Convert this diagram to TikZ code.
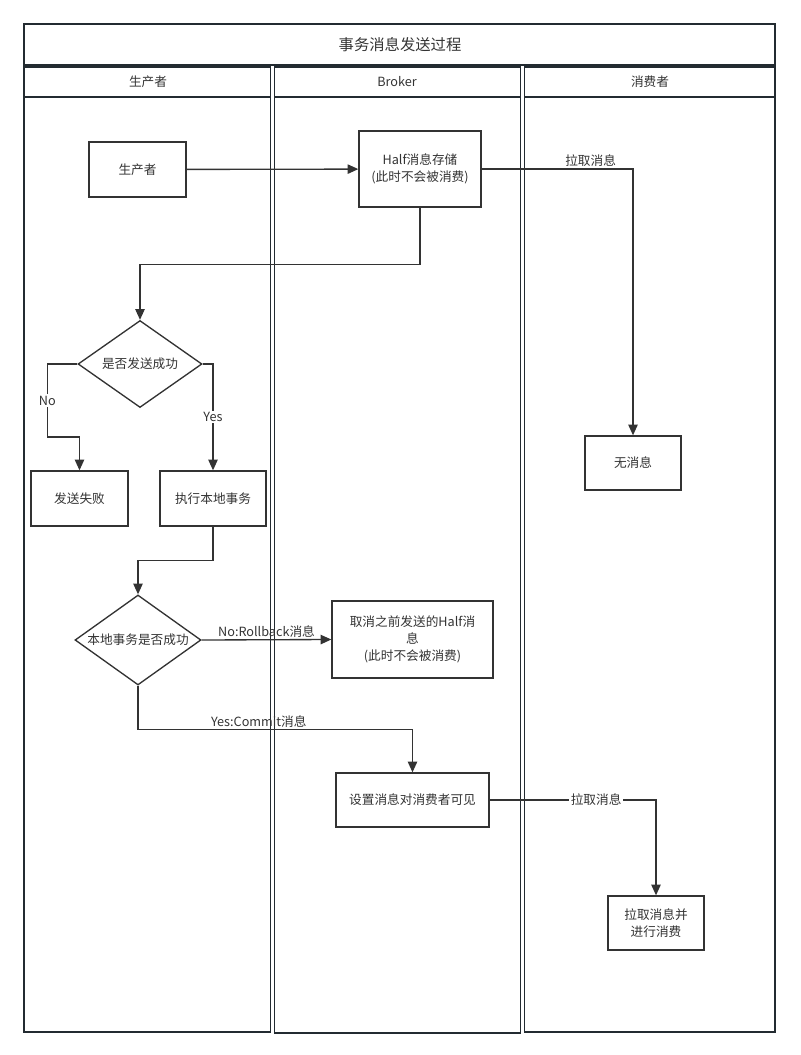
\documentclass[tikz,border=0pt]{standalone}
\usepackage{fontspec}
\setmainfont{Noto Sans CJK SC}
\usetikzlibrary{shapes.geometric}
\usetikzlibrary{arrows.meta}
\definecolor{lane}{HTML}{232B31}
\definecolor{ink}{HTML}{333333}
\newcommand{\txt}{\fontsize{9.5}{13}\selectfont}
\begin{document}
\begin{tikzpicture}[x=0.75pt,y=-0.75pt,
    lanebox/.style={draw=lane,line width=1.3pt},
    proc/.style={draw=ink,line width=1pt,fill=white,align=center,font=\txt,text=ink,inner sep=2pt},
    decide/.style={diamond,draw=ink,line width=1pt,fill=white,aspect=1.4,inner sep=0pt,font=\txt,text=ink},
    flow/.style={draw=ink,line width=1pt,-{Triangle[length=8pt,width=7pt]}},
    lbl/.style={font=\txt,text=ink,inner sep=1pt},
    cut/.style={lbl,fill=white}]
    \useasboundingbox (0,0) rectangle (800,1055);

    % pool and lanes
    \draw[lanebox] (24,24) rectangle (775,65);
    \node[font=\fontsize{11.5}{14}\selectfont,text=ink] (title) at (400,45) {事务消息发送过程};

    \draw[lanebox] (24,67) rectangle (270.5,1032);
    \draw[lanebox] (24,97) -- (270.5,97);
    \node[lbl] (laneP) at (148,82) {生产者};

    \draw[lanebox] (274.5,67) rectangle (520.5,1033);
    \draw[lanebox] (274.5,97) -- (520.5,97);
    \node[lbl] (laneB) at (397,82) {Broker};

    \draw[lanebox] (524.5,67) rectangle (775,1032);
    \draw[lanebox] (524.5,97) -- (775,97);
    \node[lbl] (laneC) at (650,82) {消费者};

    % steps
    \node[proc,minimum width=72.75pt,minimum height=41.25pt] (prod) at (137.5,169.5) {生产者};
    \node[proc,minimum width=91.5pt,minimum height=57pt] (half) at (420,169) {Half消息存储\\(此时不会被消费)};
    \node[proc,minimum width=72pt,minimum height=40.5pt] (none) at (633,463) {无消息};
    \node[decide,minimum width=93pt,minimum height=65.25pt] (sent) at (140,364) {是否发送成功};
    \node[proc,minimum width=72.75pt,minimum height=41.25pt] (fail) at (79.5,498.5) {发送失败};
    \node[proc,minimum width=79.5pt,minimum height=41.25pt] (exec) at (213,498.5) {执行本地事务};
    \node[decide,minimum width=94.5pt,minimum height=67.5pt] (local) at (138,640) {本地事务是否成功};
    \node[proc,minimum width=120.75pt,minimum height=57.75pt] (cancel) at (412.5,639.5) {取消之前发送的Half消\\息\\(此时不会被消费)};
    \node[proc,minimum width=114.75pt,minimum height=40.5pt] (show) at (412.5,800) {设置消息对消费者可见};
    \node[proc,minimum width=72pt,minimum height=40.5pt] (consume) at (656,923) {拉取消息并\\进行消费};

    % connectors
    \draw[flow] (prod) -- (half);
    \draw[flow] (half.east) -| node[lbl,above,pos=0.36] (pull1) {拉取消息} (none.north);
    \draw[flow] (half.south) -- ++(0,57) -| (sent.north);
    \draw[flow] (sent.west) -- ++(-30,0) -- ++(0,73) node[cut,midway] (no1) {No} -| (fail.north);
    \draw[flow] (sent.east) -| node[cut,pos=0.75] (yes1) {Yes} (exec.north);
    \draw[flow] (exec.south) -- ++(0,34) -| (local.north);
    \draw[flow] (local.east) -- node[lbl,above,midway] (no2) {No:Rollback消息} (cancel.west);
    \draw[flow] (local.south) -- ++(0,44) -| node[lbl,above,pos=0.22] (yes2) {Yes:Commit消息} (show.north);
    \draw[flow] (show.east) -| node[cut,pos=0.32] (pull2) {拉取消息} (consume.north);
\end{tikzpicture}
\end{document}
